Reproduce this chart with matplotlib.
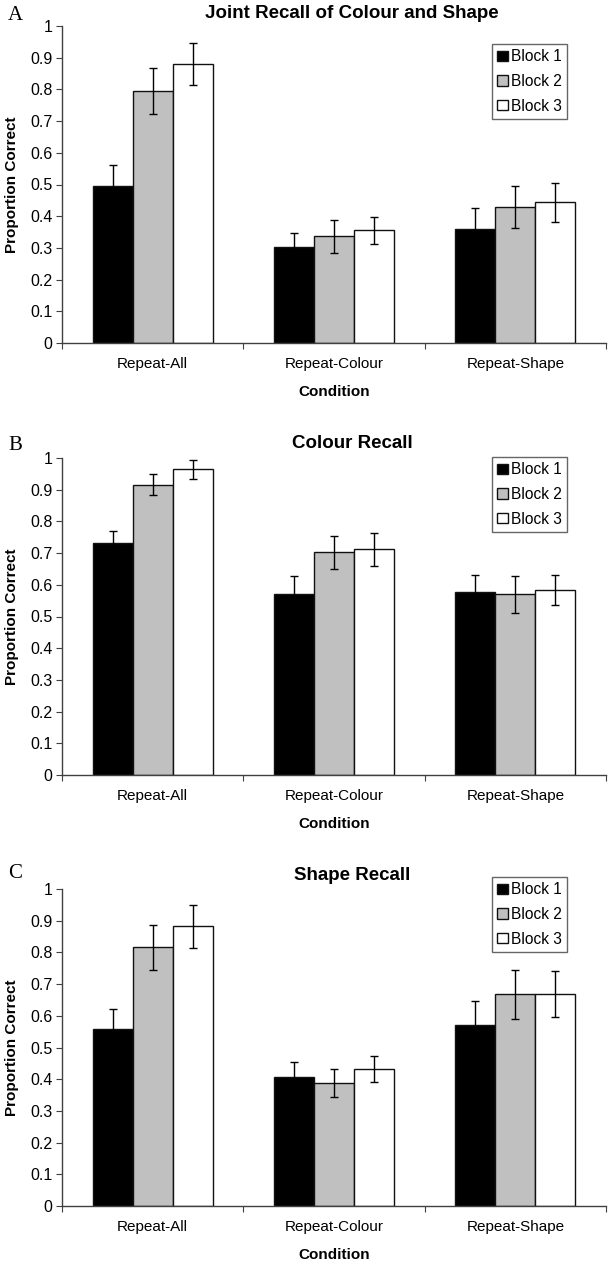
import matplotlib
matplotlib.use("Agg")
import matplotlib.pyplot as plt
import numpy as np

plt.rcParams['font.family'] = ['Liberation Sans', 'DejaVu Sans']

conditions = ["Repeat-All", "Repeat-Colour", "Repeat-Shape"]
blocks = ["Block 1", "Block 2", "Block 3"]
block_colors = ["#000000", "#c0c0c0", "#ffffff"]
yticks = [0, 0.1, 0.2, 0.3, 0.4, 0.5, 0.6, 0.7, 0.8, 0.9, 1]
ytick_labels = ["0", "0.1", "0.2", "0.3", "0.4", "0.5", "0.6", "0.7", "0.8", "0.9", "1"]

# Panel A: Joint Recall of Colour and Shape  (rows = blocks, cols = conditions)
joint_means = [[0.496, 0.304, 0.361],
               [0.795, 0.336, 0.429],
               [0.879, 0.355, 0.444]]
joint_err = [[0.066, 0.044, 0.064],
             [0.073, 0.052, 0.067],
             [0.066, 0.044, 0.061]]

# Panel B: Colour Recall
colour_means = [[0.731, 0.571, 0.576],
                [0.916, 0.702, 0.570],
                [0.964, 0.712, 0.584]]
colour_err = [[0.039, 0.058, 0.056],
              [0.032, 0.053, 0.058],
              [0.029, 0.052, 0.047]]

# Panel C: Shape Recall
shape_means = [[0.558, 0.407, 0.572],
               [0.816, 0.389, 0.668],
               [0.882, 0.432, 0.668]]
shape_err = [[0.063, 0.048, 0.075],
             [0.071, 0.044, 0.077],
             [0.068, 0.042, 0.072]]

panels = [
    ("A", "Joint Recall of Colour and Shape", joint_means, joint_err),
    ("B", "Colour Recall", colour_means, colour_err),
    ("C", "Shape Recall", shape_means, shape_err),
]

W, H = 608, 1265
fig = plt.figure(figsize=(W / 100, H / 100), dpi=100)

# pixel layout: (y of value 1, y of value 0, legend top y, letter y, title y)
layouts = [
    (26, 343, 44, 15, 13),
    (458, 775, 457, 445, 444),
    (889, 1206, 877, 874, 876),
]
ax_left, ax_right = 62, 606

bar_w = 0.22
x = np.arange(len(conditions)) + 0.5
axis_col = "#404040"

for (letter, title, means, errs), (ytop, ybot, legtop, lety, titley) in zip(panels, layouts):
    ax = fig.add_axes([ax_left / W, 1 - ybot / H, (ax_right - ax_left) / W, (ybot - ytop) / H])
    for i, (blk, col) in enumerate(zip(blocks, block_colors)):
        ax.bar(x + (i - 1) * bar_w, means[i], width=bar_w, color=col,
               edgecolor="#111111", linewidth=1.0, label=blk, zorder=2)
        ax.errorbar(x + (i - 1) * bar_w, means[i], yerr=errs[i], fmt="none",
                    ecolor="#000000", elinewidth=1.0, capsize=3, capthick=1.0, zorder=3)
    ax.set_xlim(0, 3)
    ax.set_ylim(0, 1)
    ax.set_yticks(yticks)
    ax.set_yticklabels(ytick_labels, fontsize=11.5)
    ax.set_xticks([0, 1, 2, 3])
    ax.set_xticklabels([])
    ax.set_xticks(x, minor=True)
    ax.set_xticklabels(conditions, minor=True, fontsize=11)
    ax.tick_params(axis="x", which="minor", length=0, pad=10)
    ax.tick_params(axis="x", which="major", length=4, direction="out", color=axis_col)
    ax.tick_params(axis="y", length=4, direction="out", color=axis_col, pad=3)
    for s in ["top", "right"]:
        ax.spines[s].set_visible(False)
    for s in ["left", "bottom"]:
        ax.spines[s].set_color(axis_col)
        ax.spines[s].set_linewidth(1.0)
    ax.set_xlabel("Condition", fontweight="bold", fontsize=11, labelpad=10)
    ax.set_ylabel("Proportion Correct", fontweight="bold", fontsize=11, labelpad=8)

    leg_y = (ybot - legtop) / (ybot - ytop)
    leg_x = (492 - ax_left) / (ax_right - ax_left)
    leg = ax.legend(loc="upper left", bbox_to_anchor=(leg_x, leg_y), borderaxespad=0,
                    fontsize=11.2, frameon=True, fancybox=False, handlelength=0.65,
                    handleheight=0.65, handletextpad=0.2, labelspacing=0.62,
                    borderpad=0.35)
    leg.get_frame().set_edgecolor("#404040")
    leg.get_frame().set_linewidth(1.0)

    fig.text(352 / W, 1 - titley / H, title,
             ha="center", va="center", fontweight="bold", fontsize=13.5)
    fig.text(8 / W, 1 - lety / H, letter, ha="left", va="center",
             family=["Liberation Serif", "DejaVu Serif"], fontsize=15)

fig.savefig("out.png", dpi=100)
